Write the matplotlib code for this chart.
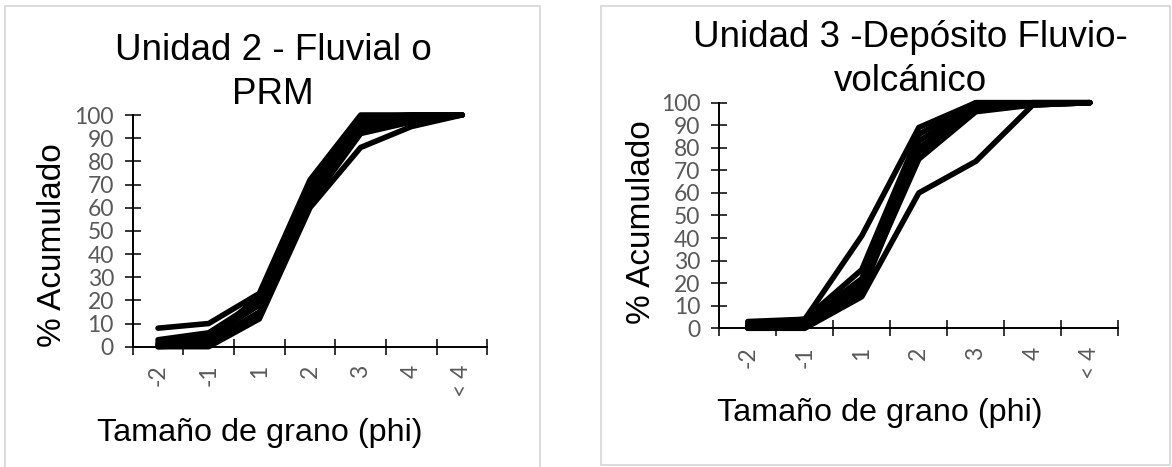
import matplotlib
matplotlib.use("Agg")
import matplotlib.pyplot as plt
from matplotlib.patches import Rectangle
from matplotlib.ticker import FixedLocator

# grain-size classes (phi) shared by both units
classes = ["-2", "-1", "1", "2", "3", "4", "< 4"]
yticks = list(range(0, 101, 10))

# cumulative % per sample, Unidad 2 (fluvial / PRM)
u2_s1 = [8, 10, 23, 72, 100, 100, 100]
u2_s2 = [0, 0, 12, 60, 86, 95, 100]
u2_s3 = [1, 2, 15, 62, 92, 97, 100]
u2_s4 = [3, 6, 20, 68, 98, 100, 100]
u2_s5 = [2, 4, 18, 66, 96, 99, 100]
u2_s6 = [0, 1, 14, 64, 94, 98, 100]
u2_s7 = [1, 3, 22, 70, 99, 100, 100]

# cumulative % per sample, Unidad 3 (fluvio-volcanic deposit)
u3_s1 = [2, 4, 41, 89, 100, 100, 100]
u3_s2 = [0, 0, 14, 60, 74, 99, 100]
u3_s3 = [1, 1, 18, 75, 96, 99, 100]
u3_s4 = [3, 4, 26, 86, 100, 100, 100]
u3_s5 = [1, 2, 20, 80, 98, 100, 100]
u3_s6 = [2, 3, 22, 83, 99, 100, 100]
u3_s7 = [0, 1, 16, 78, 97, 99, 100]

unit2 = [u2_s1, u2_s2, u2_s3, u2_s4, u2_s5, u2_s6, u2_s7]
unit3 = [u3_s1, u3_s2, u3_s3, u3_s4, u3_s5, u3_s6, u3_s7]

W, H = 1172, 467
TXT = ["Liberation Sans", "DejaVu Sans"]
NUM = ["Lato", "DejaVu Sans"]
GREY = "#595959"
NUM_SIZE = 16.5

fig = plt.figure(figsize=(W / 100, H / 100), dpi=100, facecolor="white")


def px(x0, y0, x1, y1):
    """pixel box (top-left origin) -> figure fraction rect"""
    return [x0 / W, 1 - y1 / H, (x1 - x0) / W, (y1 - y0) / H]


def frame(x0, y0, x1, y1):
    fig.patches.append(Rectangle((x0 / W, 1 - y1 / H), (x1 - x0) / W, (y1 - y0) / H,
                                 transform=fig.transFigure, fill=False,
                                 edgecolor="#d9d9d9", lw=1.3))


def panel(rect, series):
    ax = fig.add_axes(px(*rect))
    xs = range(len(classes))
    for s in series:
        ax.plot(xs, s, color="black", lw=4.0, solid_capstyle="round",
                solid_joinstyle="round", clip_on=False, zorder=3)
    ax.set_xlim(-0.5, len(classes) - 0.5)
    ax.set_ylim(0, 100)
    for side in ("top", "right"):
        ax.spines[side].set_visible(False)
    for side in ("left", "bottom"):
        ax.spines[side].set_linewidth(1.4)
    ax.set_yticks(yticks)
    ax.set_yticklabels([str(v) for v in yticks], family=NUM, fontsize=NUM_SIZE,
                       color=GREY)
    # category boundaries carry the tick marks, centres carry the labels
    ax.xaxis.set_major_locator(FixedLocator([i - 0.5 for i in range(len(classes) + 1)]))
    ax.xaxis.set_minor_locator(FixedLocator(list(xs)))
    ax.set_xticklabels([])
    ax.set_xticklabels(classes, minor=True, rotation=90, family=NUM,
                       fontsize=NUM_SIZE, color=GREY)
    ax.tick_params(axis="both", which="major", direction="inout", length=11,
                   width=1.1, color="black")
    ax.tick_params(axis="y", pad=8)
    ax.tick_params(axis="x", which="minor", length=0, pad=13)
    return ax


# left panel: Unidad 2
frame(5, 6, 540, 475)
panel((132.7, 115, 487.3, 346.7), unit2)
fig.text(273 / W, 1 - 33 / H, "Unidad 2 - Fluvial o\nPRM", ha="center", va="top",
         fontsize=26.5, family=TXT, linespacing=1.33)
fig.text(53 / W, 1 - 245 / H, "% Acumulado", rotation=90, ha="center", va="center",
         fontsize=24, family=TXT)
fig.text(260 / W, 1 - 441 / H, "Tamaño de grano (phi)", ha="center", va="baseline",
         fontsize=23.3, family=TXT)

# right panel: Unidad 3
frame(601, 6, 1170, 465)
panel((719.3, 102.7, 1118.3, 328.3), unit3)
fig.text(910 / W, 1 - 20 / H, "Unidad 3 -Depósito Fluvio-\nvolcánico", ha="center",
         va="top", fontsize=26.5, family=TXT, linespacing=1.33)
fig.text(642 / W, 1 - 222 / H, "% Acumulado", rotation=90, ha="center", va="center",
         fontsize=24, family=TXT)
fig.text(880 / W, 1 - 421 / H, "Tamaño de grano (phi)", ha="center", va="baseline",
         fontsize=23.3, family=TXT)

fig.savefig("out.png", dpi=100, facecolor="white")
